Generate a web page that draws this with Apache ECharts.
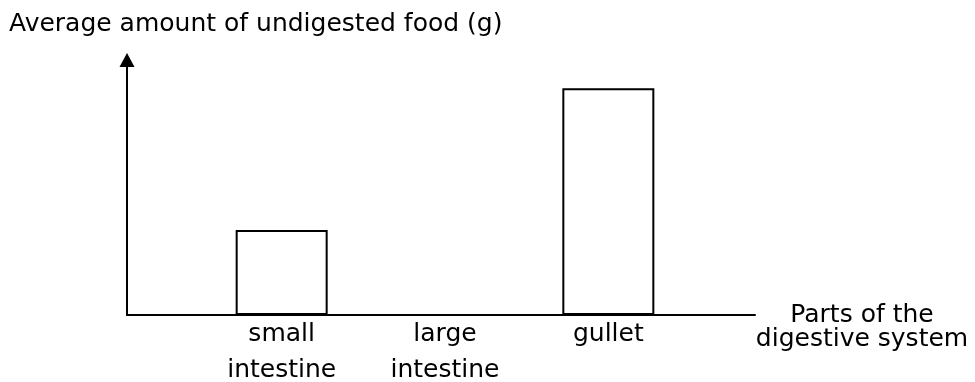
<!DOCTYPE html>
<html>
<head>
<meta charset="utf-8">
<script src="https://cdn.jsdelivr.net/npm/echarts@6/dist/echarts.min.js"></script>
<style>
  html, body { margin: 0; padding: 0; background: #fff; }
  #chart { width: 975px; height: 382px; }
</style>
</head>
<body>
<div id="chart"></div>
<script>
// Parts of the digestive system and the average undigested food in each
const categories = ['small\nintestine', 'large\nintestine', 'gullet'];
const foodGrams = [3, 0, 8];
const yMax = 9;

const FONT = 'DejaVu Sans';
const INK = '#000';

const chart = echarts.init(document.getElementById('chart'), null, { renderer: 'canvas' });

chart.setOption({
  animation: false,
  backgroundColor: '#fff',
  title: {
    text: 'Average amount of undigested food (g)',
    left: 4,
    top: 7,
    textStyle: { fontFamily: FONT, fontSize: 25, fontWeight: 'normal', color: INK }
  },
  grid: [
    // frame: the two axis lines
    { left: 127, right: 220, top: 60, bottom: 67, outerBoundsMode: 'none', containLabel: false },
    // bars: three equal bands
    { left: 200, width: 490, top: 60, bottom: 67, outerBoundsMode: 'none', containLabel: false }
  ],
  xAxis: [
    {
      gridIndex: 0,
      type: 'value',
      min: 0,
      max: 1,
      axisLine: { show: true, onZero: false, lineStyle: { color: INK, width: 2 } },
      axisTick: { show: false },
      axisLabel: { show: false },
      splitLine: { show: false },
      // leading blank line drops the two-line name below the axis end
      name: '\nParts of the\ndigestive system',
      nameLocation: 'end',
      nameGap: 107,
      nameTextStyle: {
        fontFamily: FONT, fontSize: 25, color: INK,
        align: 'center', verticalAlign: 'middle',
        lineHeight: 24
      }
    },
    {
      gridIndex: 1,
      type: 'category',
      data: categories,
      axisLine: { show: false },
      axisTick: { show: false },
      splitLine: { show: false },
      axisLabel: {
        fontFamily: FONT, fontSize: 25, color: INK,
        lineHeight: 36, margin: 1, interval: 0
      }
    }
  ],
  yAxis: [
    {
      gridIndex: 0,
      type: 'value',
      min: 0,
      max: yMax,
      axisLine: {
        show: true,
        symbol: ['none', 'triangle'],
        symbolSize: [15, 14],
        lineStyle: { color: INK, width: 2 }
      },
      axisTick: { show: false },
      axisLabel: { show: false },
      splitLine: { show: false }
    },
    {
      gridIndex: 1,
      type: 'value',
      min: 0,
      max: yMax,
      show: false,
      splitLine: { show: false }
    }
  ],
  series: [
    {
      type: 'bar',
      xAxisIndex: 1,
      yAxisIndex: 1,
      data: foodGrams,
      barWidth: 92,
      itemStyle: { color: '#fff', borderColor: INK, borderWidth: 2 },
      silent: true
    }
  ]
});
</script>
</body>
</html>
